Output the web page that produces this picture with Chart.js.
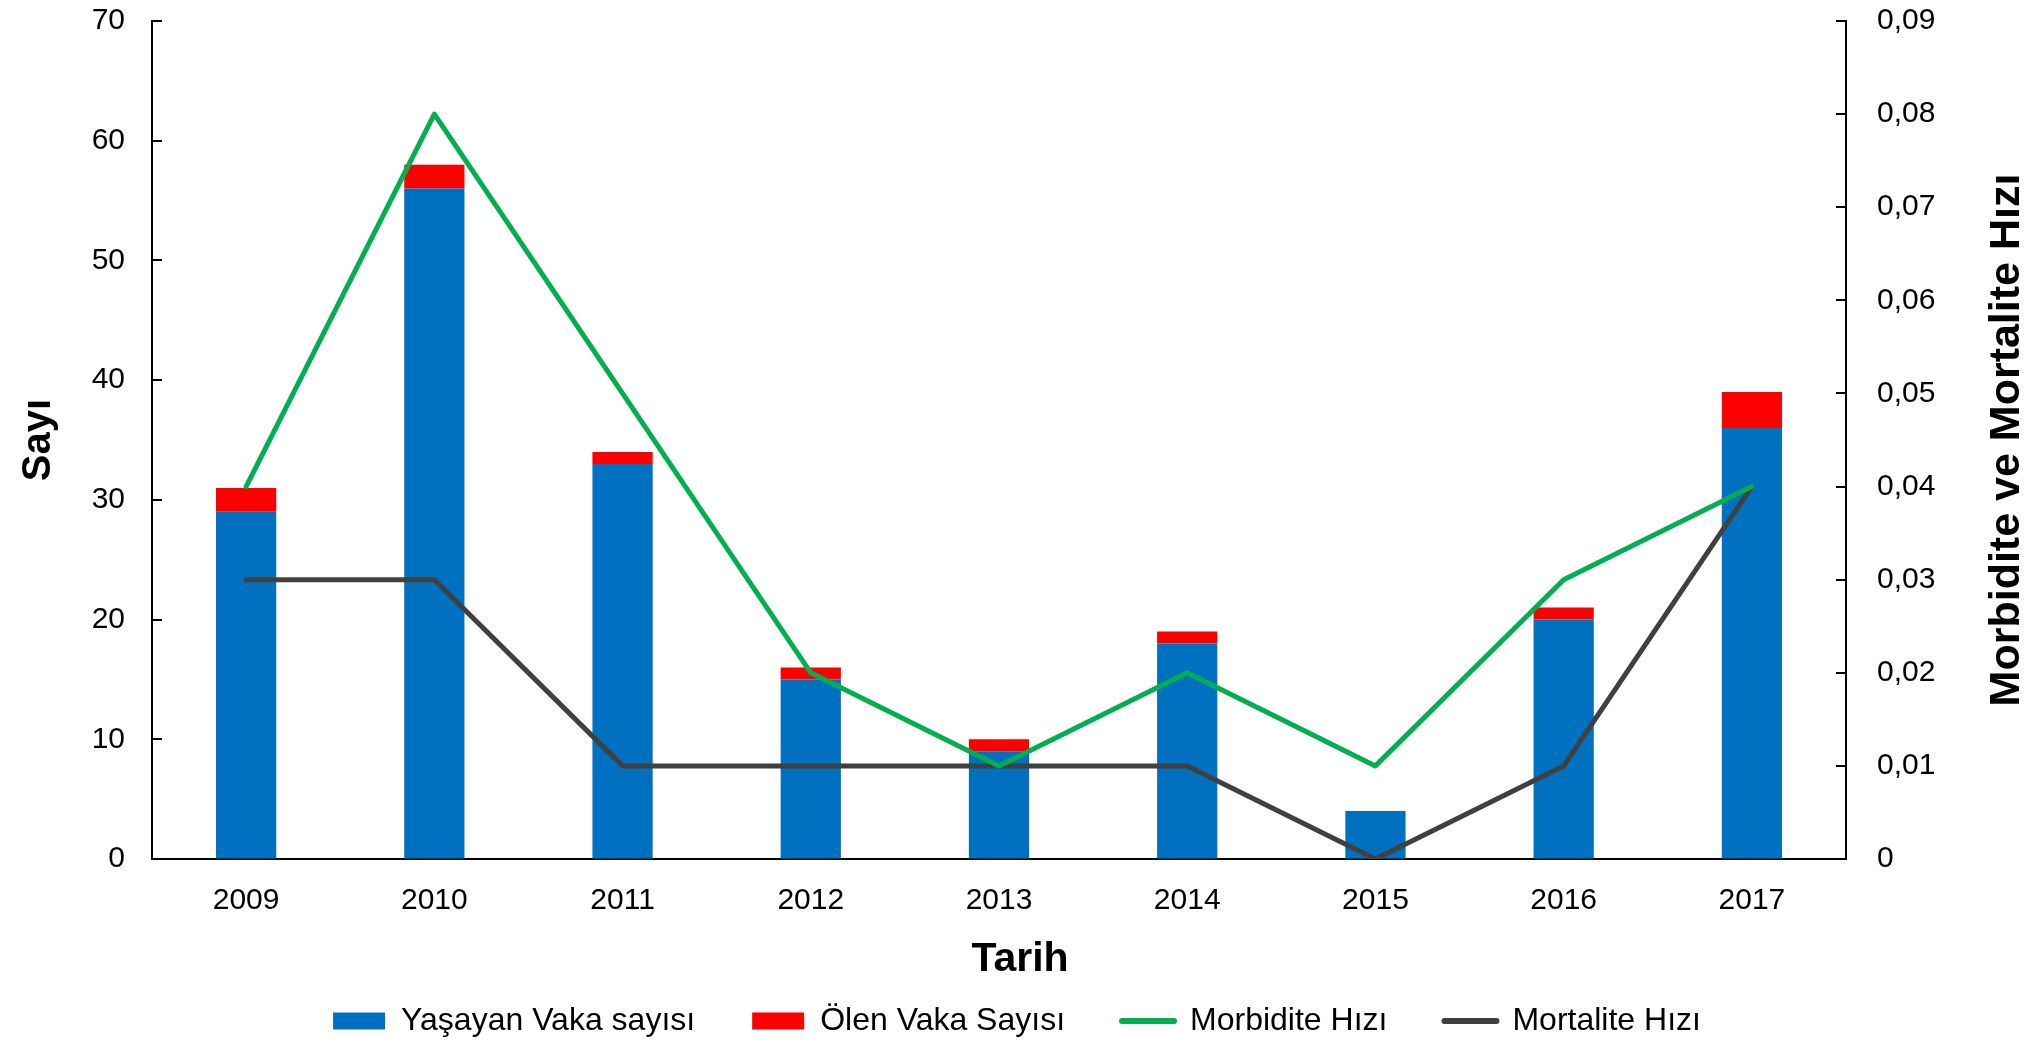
<!DOCTYPE html>
<html lang="tr">
<head>
<meta charset="UTF-8">
<title>Vaka sayıları ve hızlar</title>
<script src="https://cdn.jsdelivr.net/npm/chart.js"></script>
<style>
  html, body { margin: 0; padding: 0; background: #fff; }
  #wrap { width: 2034px; height: 1042px; }
</style>
</head>
<body>
<div id="wrap"><canvas id="vakaChart"></canvas></div>
<script>
// yearly counts (left axis) and rates (right axis)
const years = ['2009', '2010', '2011', '2012', '2013', '2014', '2015', '2016', '2017'];
const livingCases = [29, 56, 33, 15, 9, 18, 4, 20, 36];
const deadCases = [2, 2, 1, 1, 1, 1, 0, 1, 3];
const morbidityRate = [0.04, 0.08, 0.05, 0.02, 0.01, 0.02, 0.01, 0.03, 0.04];
const mortalityRate = [0.03, 0.03, 0.01, 0.01, 0.01, 0.01, 0, 0.01, 0.04];

const countTicks = ['0', '10', '20', '30', '40', '50', '60', '70'];
const rateTicks = ['0', '0,01', '0,02', '0,03', '0,04', '0,05', '0,06', '0,07', '0,08', '0,09'];
const xTitle = 'Tarih';
const rateTitle = 'Morbidite ve Mortalite Hızı';

Chart.defaults.font.family = '"Liberation Sans", Arial, sans-serif';
Chart.defaults.color = '#000';

// inward tick marks on both value axes, plus the x title and the right title
const axisExtras = {
  id: 'axisExtras',
  afterDraw(chart) {
    const { ctx, chartArea, scales } = chart;
    ctx.save();
    ctx.strokeStyle = '#000';
    ctx.lineWidth = 2;
    ctx.beginPath();
    scales.y.ticks.forEach(t => {
      const py = Math.round(scales.y.getPixelForValue(t.value));
      ctx.moveTo(chartArea.left, py);
      ctx.lineTo(chartArea.left + 10, py);
    });
    scales.y1.ticks.forEach(t => {
      const py = Math.round(scales.y1.getPixelForValue(t.value));
      ctx.moveTo(chartArea.right - 10, py);
      ctx.lineTo(chartArea.right, py);
    });
    ctx.stroke();

    ctx.fillStyle = '#000';
    ctx.textAlign = 'center';
    ctx.textBaseline = 'middle';

    // x title sits a little right of centre
    ctx.font = 'bold 41px "Liberation Sans", Arial, sans-serif';
    ctx.fillText(xTitle, (chartArea.left + chartArea.right) / 2 + 21, chartArea.bottom + 101);

    // right title reads bottom to top
    ctx.translate(chart.width - 27, (chartArea.top + chartArea.bottom) / 2);
    ctx.rotate(-Math.PI / 2);
    ctx.font = 'bold 43px "Liberation Sans", Arial, sans-serif';
    ctx.fillText(rateTitle, 0, 0);
    ctx.restore();
  }
};

// invisible tick marks push the labels away from the axis line
const sideGrid = (gap) => ({
  display: true,
  drawOnChartArea: false,
  drawTicks: true,
  tickLength: gap,
  tickColor: 'rgba(0,0,0,0)'
});

const ctx = document.getElementById('vakaChart');
new Chart(ctx, {
  data: {
    labels: years,
    datasets: [
      {
        type: 'bar',
        label: 'Yaşayan Vaka sayısı',
        data: livingCases,
        backgroundColor: '#0070C0',
        yAxisID: 'y',
        stack: 'vaka',
        order: 2
      },
      {
        type: 'bar',
        label: 'Ölen Vaka Sayısı',
        data: deadCases,
        backgroundColor: '#FF0000',
        yAxisID: 'y',
        stack: 'vaka',
        order: 2
      },
      {
        type: 'line',
        label: 'Morbidite Hızı',
        data: morbidityRate,
        borderColor: '#00B050',
        backgroundColor: '#00B050',
        borderWidth: 5,
        pointRadius: 0,
        borderJoinStyle: 'round',
        borderCapStyle: 'round',
        tension: 0,
        yAxisID: 'y1',
        order: 1
      },
      {
        type: 'line',
        label: 'Mortalite Hızı',
        data: mortalityRate,
        borderColor: '#404040',
        backgroundColor: '#404040',
        borderWidth: 5,
        pointRadius: 0,
        borderJoinStyle: 'round',
        borderCapStyle: 'round',
        tension: 0,
        yAxisID: 'y1',
        order: 1
      }
    ]
  },
  options: {
    responsive: true,
    maintainAspectRatio: false,
    animation: false,
    layout: { padding: { top: 21, left: 0, right: 0, bottom: -5 } },
    datasets: {
      bar: { categoryPercentage: 1, barPercentage: 0.32, borderWidth: 0 }
    },
    plugins: {
      tooltip: { enabled: false },
      legend: {
        position: 'bottom',
        labels: {
          usePointStyle: true,
          pointStyleWidth: 52,
          boxHeight: 17,
          padding: 57,
          font: { size: 32 },
          color: '#000',
          generateLabels(chart) {
            return chart.data.datasets.map((ds, i) => {
              const isLine = ds.type === 'line';
              return {
                text: ds.label,
                datasetIndex: i,
                fillStyle: isLine ? ds.borderColor : ds.backgroundColor,
                strokeStyle: isLine ? ds.borderColor : ds.backgroundColor,
                lineWidth: isLine ? 6 : 0,
                lineCap: 'round',
                lineJoin: 'round',
                pointStyle: isLine ? 'line' : 'rect',
                fontColor: '#000',
                hidden: false
              };
            });
          }
        }
      }
    },
    scales: {
      x: {
        stacked: true,
        grid: { display: false, drawTicks: false },
        border: { display: true, color: '#000', width: 2 },
        ticks: { font: { size: 30 }, padding: 24 },
        afterFit(scale) { scale.height = 89; }
      },
      y: {
        type: 'linear',
        position: 'left',
        stacked: true,
        min: 0,
        max: 70,
        grid: sideGrid(27),
        border: { display: true, color: '#000', width: 2 },
        ticks: {
          stepSize: 10,
          padding: 0,
          font: { size: 30 },
          callback: (v, i) => countTicks[i]
        },
        title: {
          display: true,
          text: 'Sayı',
          font: { size: 40, weight: 'bold' },
          padding: { top: 15, bottom: 0 }
        },
        afterFit(scale) { scale.width = 152; }
      },
      y1: {
        type: 'linear',
        position: 'right',
        min: 0,
        max: 0.09,
        grid: sideGrid(31),
        border: { display: true, color: '#000', width: 2 },
        ticks: {
          stepSize: 0.01,
          padding: 0,
          font: { size: 30 },
          callback: (v, i) => rateTicks[i]
        },
        afterFit(scale) { scale.width = 188; }
      }
    }
  },
  plugins: [axisExtras]
});
</script>
</body>
</html>
